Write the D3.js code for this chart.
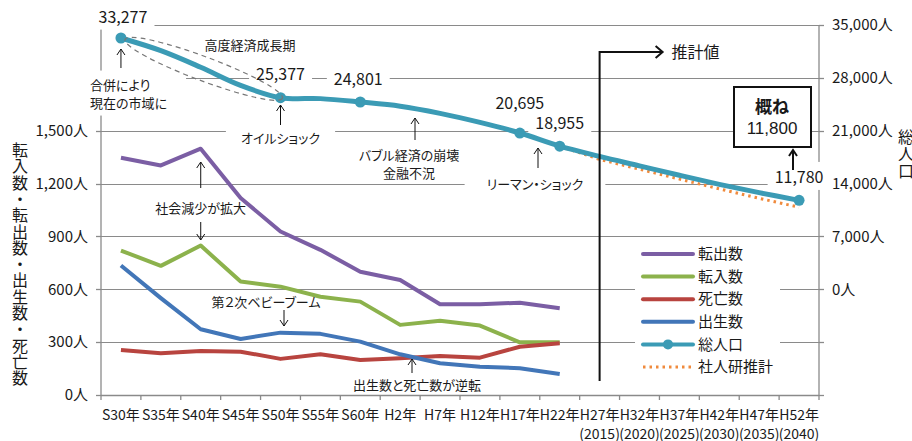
<!DOCTYPE html>
<html>
<head>
<meta charset="utf-8">
<title></title>
<style>
body { margin: 0; background: #fff; }
text { fill: #1a1a1a; font-family: 'Liberation Sans Narrow', 'Arial Narrow', 'Noto Sans CJK JP', sans-serif; }
.jp { font-family: 'Noto Sans CJK JP', sans-serif; font-feature-settings: "palt"; }
.grid { stroke: #8a8a8a; stroke-width: 1px; }
.axis { stroke: #8a8a8a; stroke-width: 1.3px; }
.arrow { fill: none; stroke: #111; stroke-width: 1px; }
</style>
</head>
<body>
<script src="https://cdn.jsdelivr.net/npm/d3@7"></script>
<script>

// categories (和暦) and western years for the projection part
var years = ["S30年","S35年","S40年","S45年","S50年","S55年","S60年","H2年","H7年","H12年",
             "H17年","H22年","H27年","H32年","H37年","H42年","H47年","H52年"];
var westernYears = ["","","","","","","","","","","","","(2015)","(2020)","(2025)","(2030)","(2035)","(2040)"];

// left axis series (人)
var outMoves = [1347,1303,1398,1118,928,824,700,653,515,515,524,492];   // 転出数
var inMoves  = [820,733,848,644,615,558,530,398,422,394,299,299];       // 転入数
var deaths   = [256,237,250,246,205,231,199,208,222,212,274,294];       // 死亡数
var births   = [735,550,373,318,354,347,303,231,180,161,152,119];       // 出生数

// right axis series (人)
var population = [33277,31600,29400,27000,25377,25250,24801,24250,23300,22100,
                  20695,18955,17600,16350,15100,13900,12800,11780];    // 総人口
var ipss = [null,null,null,null,null,null,null,null,null,null,null,
            18955,17200,15900,14600,13300,12050,10870];                 // 社人研推計
var markedYears = ["S30年","S50年","S60年","H17年","H22年","H52年"];

var leftTicks  = [0,300,600,900,1200,1500,1800,2100];
var rightTicks = [-14000,-7000,0,7000,14000,21000,28000,35000];

var width = 912, height = 441;
var plotL = 101, plotR = 819, plotT = 25, plotB = 395;

var svg = d3.select("body").append("svg")
    .attr("width", width)
    .attr("height", height);

var x = d3.scaleBand().domain(years).range([plotL, plotR]);
var xc = function(d) { return x(d) + x.bandwidth() / 2; };
var yL = d3.scaleLinear().domain([0, 2100]).range([plotB, plotT]);
var yR = d3.scaleLinear().domain([-14000, 35000]).range([plotB, plotT]);
var fmt = d3.format(",");

var gGrid = svg.append("g"),
    gAxes = svg.append("g"),
    gBoxes = svg.append("g"),
    gLines = svg.append("g"),
    gText = svg.append("g");

// gridlines
gGrid.selectAll("line").data(leftTicks).enter().append("line")
    .attr("class", "grid")
    .attr("x1", plotL).attr("x2", plotR)
    .attr("y1", function(d) { return Math.round(yL(d)) + 0.5; })
    .attr("y2", function(d) { return Math.round(yL(d)) + 0.5; });

// left axis
gAxes.append("line").attr("class", "axis")
    .attr("x1", plotL).attr("x2", plotL).attr("y1", plotT).attr("y2", plotB);
gAxes.selectAll(".lt").data(leftTicks).enter().append("line")
    .attr("class", "axis")
    .attr("x1", plotL - 5).attr("x2", plotL)
    .attr("y1", function(d) { return Math.round(yL(d)) + 0.5; })
    .attr("y2", function(d) { return Math.round(yL(d)) + 0.5; });
gText.selectAll(".ll").data(leftTicks.filter(function(d) { return d <= 1500; })).enter().append("text")
    .attr("x", 88)
    .attr("y", function(d) { return yL(d); })
    .attr("dy", "0.35em")
    .attr("text-anchor", "end")
    .style("font-size", "15px")
    .text(function(d) { return fmt(d) + "人"; });

// right axis
gAxes.append("line").attr("class", "axis")
    .attr("x1", plotR).attr("x2", plotR).attr("y1", plotT).attr("y2", plotB);
gAxes.selectAll(".rt").data(rightTicks).enter().append("line")
    .attr("class", "axis")
    .attr("x1", plotR).attr("x2", plotR + 5)
    .attr("y1", function(d) { return Math.round(yR(d)) + 0.5; })
    .attr("y2", function(d) { return Math.round(yR(d)) + 0.5; });
gText.selectAll(".rl").data(rightTicks.filter(function(d) { return d >= 0; })).enter().append("text")
    .attr("x", 832)
    .attr("y", function(d) { return yR(d); })
    .attr("dy", "0.35em")
    .style("font-size", "15px")
    .text(function(d) { return fmt(d) + "人"; });

// bottom axis
gAxes.append("line").attr("class", "axis")
    .attr("x1", plotL).attr("x2", plotR).attr("y1", plotB + 0.5).attr("y2", plotB + 0.5);
gAxes.selectAll(".bt").data(years.concat(["end"])).enter().append("line")
    .attr("class", "axis")
    .attr("x1", function(d, i) { return plotL + i * x.bandwidth(); })
    .attr("x2", function(d, i) { return plotL + i * x.bandwidth(); })
    .attr("y1", plotB).attr("y2", plotB + 5);
gText.selectAll(".bl").data(years).enter().append("text")
    .attr("x", function(d) { return xc(d); })
    .attr("y", 420)
    .attr("text-anchor", "middle")
    .style("font-size", "14px")
    .text(function(d) { return d; });
gText.selectAll(".bl2").data(westernYears).enter().append("text")
    .attr("x", function(d, i) { return xc(years[i]); })
    .attr("y", 439)
    .attr("text-anchor", "middle")
    .style("font-size", "14px")
    .text(function(d) { return d; });

// axis titles
var leftTitle = "転入数・転出数・出生数・死亡数".split("");
gText.append("text").attr("class", "jp")
    .style("font-size", "16px")
    .attr("text-anchor", "middle")
    .selectAll("tspan").data(leftTitle).enter().append("tspan")
    .attr("x", 20)
    .attr("y", function(d, i) { return 156 + i * 16.3; })
    .text(function(d) { return d; });
gText.append("text").attr("class", "jp")
    .style("font-size", "16px")
    .attr("text-anchor", "middle")
    .selectAll("tspan").data("総人口".split("")).enter().append("tspan")
    .attr("x", 906)
    .attr("y", function(d, i) { return 143 + i * 17; })
    .text(function(d) { return d; });

// footnote (cut by the bottom edge)
gText.append("text").attr("class", "jp")
    .attr("x", 102).attr("y", 452)
    .style("font-size", "12px")
    .style("fill", "#444")
    .text("総人口：S30（1955）年～H22（2010）年：国勢調査");

// text labels with white box behind them
function label(lines, cx, cy, opt) {
  opt = opt || {};
  var size = opt.size || 13, lh = opt.lh || size * 1.38;
  var t = gText.append("text")
      .attr("class", opt.num ? null : "jp")
      .attr("text-anchor", opt.anchor || "middle")
      .style("font-size", size + "px")
      .style("font-weight", opt.bold ? "bold" : null);
  var y0 = cy - (lines.length - 1) * lh / 2;
  lines.forEach(function(s, i) {
    t.append("tspan").attr("x", cx).attr("y", y0 + i * lh).attr("dy", "0.35em").text(s);
  });
  if (opt.box !== false) {
    var b = t.node().getBBox(), px = opt.px || 7, py = opt.py || 3;
    gBoxes.append("rect")
        .attr("x", b.x - px).attr("y", b.y - py)
        .attr("width", b.width + px + (opt.pxr || px)).attr("height", b.height + 2 * py)
        .style("fill", "#fff");
  }
  return t;
}

function arrow(ax, tail, tip, w) {
  var dir = tip < tail ? 1 : -1;
  gText.append("path").attr("class", "arrow")
      .style("stroke-width", w || 1)
      .attr("d", "M" + ax + "," + tail + "L" + ax + "," + tip +
                 "M" + (ax - 4) + "," + (tip + 6 * dir) + "L" + ax + "," + tip + "L" + (ax + 4) + "," + (tip + 6 * dir));
}

// population value labels
markedYears.forEach(function(c) {
  var i = years.indexOf(c);
  var off = c == "H17年" ? -30 : (c == "S30年" ? -21 : -23);
  label([fmt(population[i])], xc(c) + (c == "S30年" ? 2 : 0) - (c == "S60年" ? 2 : 0), yR(population[i]) + off,
        {num: true, size: 16, px: 7, py: 2});
});

// annotations
label(["高度経済成長期"], 250, 45, {box: false});
label(["合併により", "現在の市域に"], 90, 94, {anchor: "start", lh: 18, px: 2, pxr: 19, py: 4});
arrow(xc("S30年"), 68, 49);
label(["オイルショック"], xc("S50年"), 138, {px: 15, py: 8});
arrow(xc("S50年"), 125, 105);
label(["バブル経済の崩壊", "金融不況"], 409, 164, {lh: 18, box: false});
arrow(415, 140, 118);
label(["リーマン・ショック"], 535, 184, {px: 22, py: 4});
arrow(538, 168, 148);
label(["社会減少が拡大"], xc("S40年"), 208, {box: false});
arrow(xc("S40年"), 188, 162);
arrow(xc("S40年"), 222, 240);
label(["第２次ベビーブーム"], 266, 302, {box: false});
arrow(284, 310, 326);
label(["出生数と死亡数が逆転"], 417, 385, {box: false});
arrow(412, 373, 359);

// projection separator
var sx = xc("H27年");
gText.append("path").attr("class", "arrow")
    .style("stroke-width", 2)
    .attr("d", "M" + sx + ",381L" + sx + ",52L" + (sx + 63) + ",52" +
               "M" + (sx + 56) + ",46L" + (sx + 63) + ",52L" + (sx + 56) + ",58");
gText.append("text").attr("class", "jp")
    .attr("x", sx + 72).attr("y", 52).attr("dy", "0.35em")
    .style("font-size", "16px")
    .text("推計値");

// box 概ね 11,800
gText.append("rect")
    .attr("x", 734).attr("y", 87).attr("width", 77).attr("height", 60)
    .style("fill", "#fff").style("stroke", "#111").style("stroke-width", 2);
label(["概ね"], 772, 107, {size: 17, bold: true, box: false});
gText.append("text")
    .attr("x", 772).attr("y", 128).attr("dy", "0.35em")
    .attr("text-anchor", "middle")
    .style("font-family", "'Liberation Sans', 'Noto Sans CJK JP', sans-serif")
    .style("font-size", "17px")
    .text("11,800");
arrow(793, 170, 150, 2);

// legend box
gBoxes.append("rect")
    .attr("x", 635).attr("y", 243).attr("width", 145).attr("height", 136)
    .style("fill", "#fff");

// data lines
var leftSeries = [
  {name: "転出数", values: outMoves, color: "#7b5ea4"},
  {name: "転入数", values: inMoves, color: "#8cb24c"},
  {name: "死亡数", values: deaths, color: "#b8443f"},
  {name: "出生数", values: births, color: "#4276b8"}
];
var lineL = d3.line()
    .x(function(d, i) { return xc(years[i]); })
    .y(function(d) { return yL(d); });

gLines.selectAll(".sl").data(leftSeries).enter().append("path")
    .attr("d", function(d) { return lineL(d.values); })
    .style("fill", "none")
    .style("stroke", function(d) { return d.color; })
    .style("stroke-width", 4)
    .style("stroke-linejoin", "round");

var teal = "#3b9bb5", orange = "#f08a3c";
var lineR = d3.line()
    .defined(function(d) { return d != null; })
    .x(function(d, i) { return xc(years[i]); })
    .y(function(d) { return yR(d); });

gLines.append("path")
    .attr("d", lineR(ipss))
    .style("fill", "none")
    .style("stroke", orange)
    .style("stroke-width", 3)
    .style("stroke-dasharray", "2.5,4");

gLines.append("path")
    .attr("d", lineR.curve(d3.curveCatmullRom.alpha(0.5))(population))
    .style("fill", "none")
    .style("stroke", teal)
    .style("stroke-width", 5);

gLines.selectAll(".pt").data(markedYears).enter().append("circle")
    .attr("cx", function(d) { return xc(d); })
    .attr("cy", function(d) { return yR(population[years.indexOf(d)]); })
    .attr("r", 5.5)
    .style("fill", teal);

// legend
var legendItems = leftSeries.map(function(d) { return {name: d.name, color: d.color}; })
    .concat([{name: "総人口", color: teal, marker: true}, {name: "社人研推計", color: orange, dotted: true}]);
var leg = gText.selectAll(".leg").data(legendItems).enter().append("g")
    .attr("transform", function(d, i) { return "translate(643," + (254 + i * 22.6) + ")"; });
leg.append("line")
    .attr("x1", 0).attr("x2", 50)
    .style("stroke", function(d) { return d.color; })
    .style("stroke-width", function(d) { return d.dotted ? 3 : 4; })
    .style("stroke-linecap", function(d) { return d.dotted ? "butt" : "round"; })
    .style("stroke-dasharray", function(d) { return d.dotted ? "2.5,4" : null; });
leg.filter(function(d) { return d.marker; }).append("circle")
    .attr("cx", 25).attr("r", 5).style("fill", teal);
leg.append("text").attr("class", "jp")
    .attr("x", 55).attr("dy", "0.35em")
    .style("font-size", "15px")
    .text(function(d) { return d.name; });

// dashed ellipse around 高度経済成長期
var e1 = [xc("S30年"), yR(population[0])], e2 = [xc("S50年"), yR(population[4])];
var ang = Math.atan2(e2[1] - e1[1], e2[0] - e1[0]) * 180 / Math.PI;
gText.append("ellipse")
    .attr("transform", "translate(" + ((e1[0] + e2[0]) / 2 + 3) + "," + ((e1[1] + e2[1]) / 2 + 1) + ") rotate(" + ang + ")")
    .attr("rx", 84).attr("ry", 12)
    .style("fill", "none")
    .style("stroke", "#777")
    .style("stroke-width", 1.2)
    .style("stroke-dasharray", "5,4");

</script>
</body>
</html>
